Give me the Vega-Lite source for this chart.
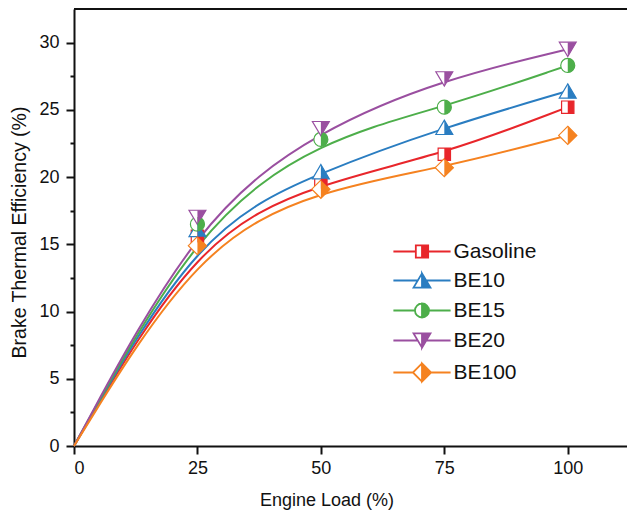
{
  "$schema": "https://vega.github.io/schema/vega-lite/v6.json",
  "width": 553,
  "height": 437,
  "autosize": {"type": "none"},
  "padding": {"left": 74, "top": 9, "right": 0, "bottom": 68},
  "background": "white",
  "config": {
    "view": {"stroke": null},
    "axis": {
      "domainColor": "#111", "domainWidth": 2, "tickColor": "#111", "tickWidth": 2,
      "grid": false, "labelFont": "Liberation Sans", "labelFontSize": 18, "labelColor": "#111",
      "titleFont": "Liberation Sans", "titleFontWeight": "normal", "titleColor": "#111"
    }
  },
  "data": {"values": [
    {"load": 0, "bte": 0, "fuel": "Gasoline"},
    {"load": 25, "bte": 15.6, "fuel": "Gasoline"},
    {"load": 50, "bte": 19.6, "fuel": "Gasoline"},
    {"load": 75, "bte": 21.7, "fuel": "Gasoline"},
    {"load": 100, "bte": 25.2, "fuel": "Gasoline"},
    {"load": 0, "bte": 0, "fuel": "BE10"},
    {"load": 25, "bte": 16.1, "fuel": "BE10"},
    {"load": 50, "bte": 20.4, "fuel": "BE10"},
    {"load": 75, "bte": 23.7, "fuel": "BE10"},
    {"load": 100, "bte": 26.4, "fuel": "BE10"},
    {"load": 0, "bte": 0, "fuel": "BE15"},
    {"load": 25, "bte": 16.5, "fuel": "BE15"},
    {"load": 50, "bte": 22.8, "fuel": "BE15"},
    {"load": 75, "bte": 25.2, "fuel": "BE15"},
    {"load": 100, "bte": 28.3, "fuel": "BE15"},
    {"load": 0, "bte": 0, "fuel": "BE20"},
    {"load": 25, "bte": 17.0, "fuel": "BE20"},
    {"load": 50, "bte": 23.6, "fuel": "BE20"},
    {"load": 75, "bte": 27.3, "fuel": "BE20"},
    {"load": 100, "bte": 29.5, "fuel": "BE20"},
    {"load": 0, "bte": 0, "fuel": "BE100"},
    {"load": 25, "bte": 14.9, "fuel": "BE100"},
    {"load": 50, "bte": 19.1, "fuel": "BE100"},
    {"load": 75, "bte": 20.7, "fuel": "BE100"},
    {"load": 100, "bte": 23.1, "fuel": "BE100"}
  ]},
  "encoding": {
    "x": {"field": "load", "type": "quantitative",
      "scale": {"domain": [0, 112], "nice": false},
      "axis": {"title": "Engine Load (%)", "values": [0, 25, 50, 75, 100], "tickSize": 8, "labelPadding": 5,
        "titleFontSize": 18, "titleX": 252.5, "titleY": 59, "titleBaseline": "alphabetic", "titleAlign": "center"}},
    "y": {"field": "bte", "type": "quantitative",
      "scale": {"domain": [0, 32.5], "nice": false},
      "axis": {"title": "Brake Thermal Efficiency (%)",
        "values": [0, 2.5, 5, 7.5, 10, 12.5, 15, 17.5, 20, 22.5, 25, 27.5, 30],
        "labelExpr": "datum.value % 5 === 0 ? datum.label : ''",
        "tickSize": {"condition": {"test": "datum.value % 5 === 0", "value": 8}, "value": 4},
        "labelPadding": 7,
        "titleFontSize": 19.5, "titleX": -49, "titleY": 223, "titleBaseline": "alphabetic", "titleAlign": "center", "titleAngle": -90}}
  },
  "layer": [
    {
      "mark": {"type": "rule", "color": "#111", "strokeWidth": 2},
      "encoding": {"y": {"datum": 32.5}, "x": null}
    },
    {
      "mark": {"type": "line", "interpolate": "basis", "strokeWidth": 2},
      "encoding": {
        "color": {"field": "fuel", "type": "nominal",
          "scale": {"domain": ["Gasoline", "BE10", "BE15", "BE20", "BE100"],
                    "range": ["#e8262b", "#2a7dc1", "#4dae4a", "#9a4fa0", "#f58220"]},
          "legend": {
            "title": null, "orient": "none", "legendX": 337.5, "legendY": 232,
            "padding": 0, "symbolSize": 169, "labelOffset": 21, "rowPadding": 7,
            "labelFont": "Liberation Sans", "labelFontSize": 21, "labelColor": "#111",
            "encode": {"symbols": {"update": {
              "shape": {"signal": "{'Gasoline':'M-4.4,0H-0.95M0.95,0H4.4M0,-0.95H0.95V0.95H0ZM0,-0.95H-0.95V0.95H0H-0.95V-0.95H0','BE10':'M-4.4,0H-0.65M0.65,0H4.4M0,-1.1L1.3,1.1H0ZM0,-1.1L-1.3,1.1H0H-1.3L0,-1.1','BE15':'M-4.4,0H-1.08M1.08,0H4.4M0,-1.08C0.596,-1.08,1.08,-0.596,1.08,0C1.08,0.596,0.596,1.08,0,1.08ZM0,-1.08C-0.596,-1.08,-1.08,-0.596,-1.08,0C-1.08,0.596,-0.596,1.08,0,1.08C-0.596,1.08,-1.08,0.596,-1.08,0C-1.08,-0.596,-0.596,-1.08,0,-1.08','BE20':'M-4.4,0H-0.65M0.65,0H4.4M0,-1.1H1.3L0,1.1ZM0,-1.1H-1.3L0,1.1L-1.3,-1.1H0','BE100':'M-4.4,0H-1.4M1.4,0H4.4M0,-1.4L1.4,0L0,1.4ZM0,-1.4L-1.4,0L0,1.4L-1.4,0L0,-1.4'}[datum.value]"},
              "fill": {"signal": "scale('color', datum.value)"},
              "stroke": {"signal": "scale('color', datum.value)"},
              "strokeWidth": {"value": 1.8},
              "opacity": {"value": 1},
              "fillOpacity": {"value": 1}
            }}}
          }}
      }
    },
    {
      "transform": [{"filter": "datum.load > 0"}],
      "mark": {"type": "point", "filled": false, "fill": "white", "fillOpacity": 1, "opacity": 1, "strokeWidth": 1.2, "size": 169},
      "encoding": {
        "color": {"field": "fuel", "type": "nominal"},
        "shape": {"field": "fuel", "type": "nominal", "legend": null,
          "scale": {"domain": ["Gasoline", "BE10", "BE15", "BE20", "BE100"],
            "range": ["M-0.95,-0.95H0.95V0.95H-0.95Z", "M0,-1.1L1.3,1.1H-1.3Z",
              "M0,-1.08C0.596,-1.08,1.08,-0.596,1.08,0C1.08,0.596,0.596,1.08,0,1.08C-0.596,1.08,-1.08,0.596,-1.08,0C-1.08,-0.596,-0.596,-1.08,0,-1.08Z",
              "M-1.3,-1.1H1.3L0,1.1Z", "M0,-1.4L1.4,0L0,1.4L-1.4,0Z"]}}
      }
    },
    {
      "transform": [{"filter": "datum.load > 0"}],
      "mark": {"type": "point", "filled": true, "opacity": 1, "strokeWidth": 0, "size": 169},
      "encoding": {
        "color": {"field": "fuel", "type": "nominal"},
        "shape": {"field": "fuel", "type": "nominal", "legend": null,
          "scale": {"domain": ["Gasoline", "BE10", "BE15", "BE20", "BE100"],
            "range": ["M0,-0.95H0.95V0.95H0Z", "M0,-1.1L1.3,1.1H0Z",
              "M0,-1.08C0.596,-1.08,1.08,-0.596,1.08,0C1.08,0.596,0.596,1.08,0,1.08Z",
              "M0,-1.1H1.3L0,1.1Z", "M0,-1.4L1.4,0L0,1.4Z"]}}
      }
    }
  ],
  "resolve": {"scale": {"shape": "independent"}}
}
